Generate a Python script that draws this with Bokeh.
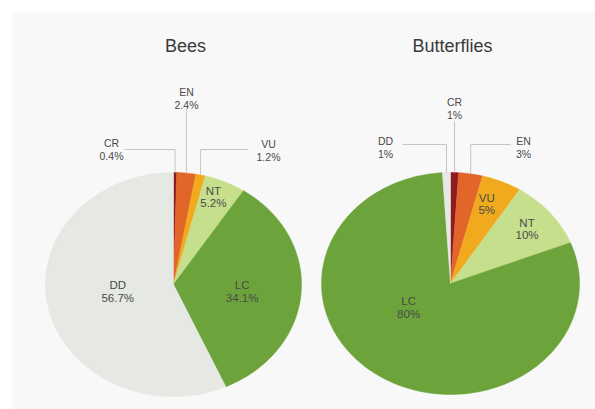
import numpy as np
from bokeh.plotting import figure
from bokeh.models import Range1d
from bokeh.core.properties import value
from bokeh.embed import file_html
from bokeh.resources import INLINE

# ---------------- data ----------------
chart_titles = ["Bees", "Butterflies"]
categories = ["CR", "EN", "VU", "NT", "LC", "DD"]
bees_values = [0.4, 2.4, 1.2, 5.2, 34.1, 56.7]
bees_labels = ["0.4%", "2.4%", "1.2%", "5.2%", "34.1%", "56.7%"]
butterflies_values = [1, 3, 5, 10, 80, 1]
butterflies_labels = ["1%", "3%", "5%", "10%", "80%", "1%"]

# ---------------- styles / layout ----------------
colors = {"CR": "#8e1b22", "EN": "#e2662a", "VU": "#f1aa1e",
          "NT": "#c6df8d", "LC": "#6ca43b", "DD": "#e5e8e3"}
FONT = value("Liberation Sans")
TEXT_COLOR = "#4a4a4a"
LINE_COLOR = "#c4c4c4"

pies = [
    dict(title=chart_titles[0], values=bees_values, labels=bees_labels,
         cx=173, cy=284, rx=128, ry=112, title_xy=(185, 45),
         inside={"NT": (0.84, -2), "LC": (0.54, 2), "DD": (0.44, 4)},
         outside={"CR": dict(elbow=149, end=124, lab=(111, 149)),
                  "EN": dict(elbow=109, end=None, lab=(186, 98)),
                  "VU": dict(elbow=149, end=247, lab=(268, 150))}),
    dict(title=chart_titles[1], values=butterflies_values, labels=butterflies_labels,
         cx=450, cy=283, rx=129, ry=111, title_xy=(452, 45),
         inside={"VU": (0.77, -2), "NT": (0.77, 0), "LC": (0.39, 24)},
         outside={"DD": dict(elbow=144, end=402, lab=(385, 147)),
                  "CR": dict(elbow=121, end=None, lab=(454, 108)),
                  "EN": dict(elbow=144, end=510, lab=(523, 147))}),
]

p = figure(width=595, height=409, x_range=Range1d(0, 595), y_range=Range1d(409, 0),
           output_backend="svg", toolbar_location=None, min_border=0)
p.axis.visible = False
p.grid.visible = False
p.outline_line_color = None
p.background_fill_color = "white"
p.border_fill_color = "white"

# light panel
p.quad(left=[12], right=[595], top=[12], bottom=[409], fill_color="#f8f8f8", line_color=None)

for pie in pies:
    vals = np.array(pie["values"], dtype=float)
    frac = vals / vals.sum()
    ends = np.cumsum(frac) * 360.0
    starts = ends - frac * 360.0
    cx, cy, rx, ry = pie["cx"], pie["cy"], pie["rx"], pie["ry"]

    def pt(theta_deg, f=1.0):
        t = np.radians(theta_deg)
        return cx + f * rx * np.sin(t), cy - f * ry * np.cos(t)

    xs, ys, fills = [], [], []
    for cat, a0, a1 in zip(categories, starts, ends):
        n = max(3, int((a1 - a0) / 1.0) + 2)
        th = np.linspace(a0, a1, n)
        ax, ay = pt(th)
        xs.append([cx] + list(ax))
        ys.append([cy] + list(ay))
        fills.append(colors[cat])
    p.patches(xs=xs, ys=ys, fill_color=fills, line_color=fills, line_width=0.5)

    # inside labels
    tx, ty, tt = [], [], []
    for i, cat in enumerate(categories):
        if cat in pie["inside"]:
            f, dth = pie["inside"][cat]
            mid = (starts[i] + ends[i]) / 2 + dth
            x, y = pt(mid, f)
            tx.append(x); ty.append(y); tt.append(cat + "\n" + pie["labels"][i])
    p.text(x=tx, y=ty, text=tt, text_align="center", text_baseline="middle",
           text_font=FONT, text_font_size="11.5px", text_color=TEXT_COLOR,
           text_line_height=1.05)

    # outside labels with leader lines
    lx, ly, lt = [], [], []
    for i, cat in enumerate(categories):
        if cat in pie["outside"]:
            o = pie["outside"][cat]
            mid = (starts[i] + ends[i]) / 2
            ax, ay = pt(mid)
            px = [ax, ax]
            py = [ay, o["elbow"]]
            if o["end"] is not None:
                px.append(o["end"]); py.append(o["elbow"])
            p.line(px, py, line_color=LINE_COLOR, line_width=1)
            lx.append(o["lab"][0]); ly.append(o["lab"][1])
            lt.append(cat + "\n" + pie["labels"][i])
    p.text(x=lx, y=ly, text=lt, text_align="center", text_baseline="middle",
           text_font=FONT, text_font_size="10.5px", text_color=TEXT_COLOR,
           text_line_height=1.05)

    p.text(x=[pie["title_xy"][0]], y=[pie["title_xy"][1]], text=[pie["title"]],
           text_align="center", text_baseline="middle", text_font=FONT,
           text_font_size="18px", text_color="#3a3a3a")

open("out.html", "w").write(file_html(p, INLINE))
